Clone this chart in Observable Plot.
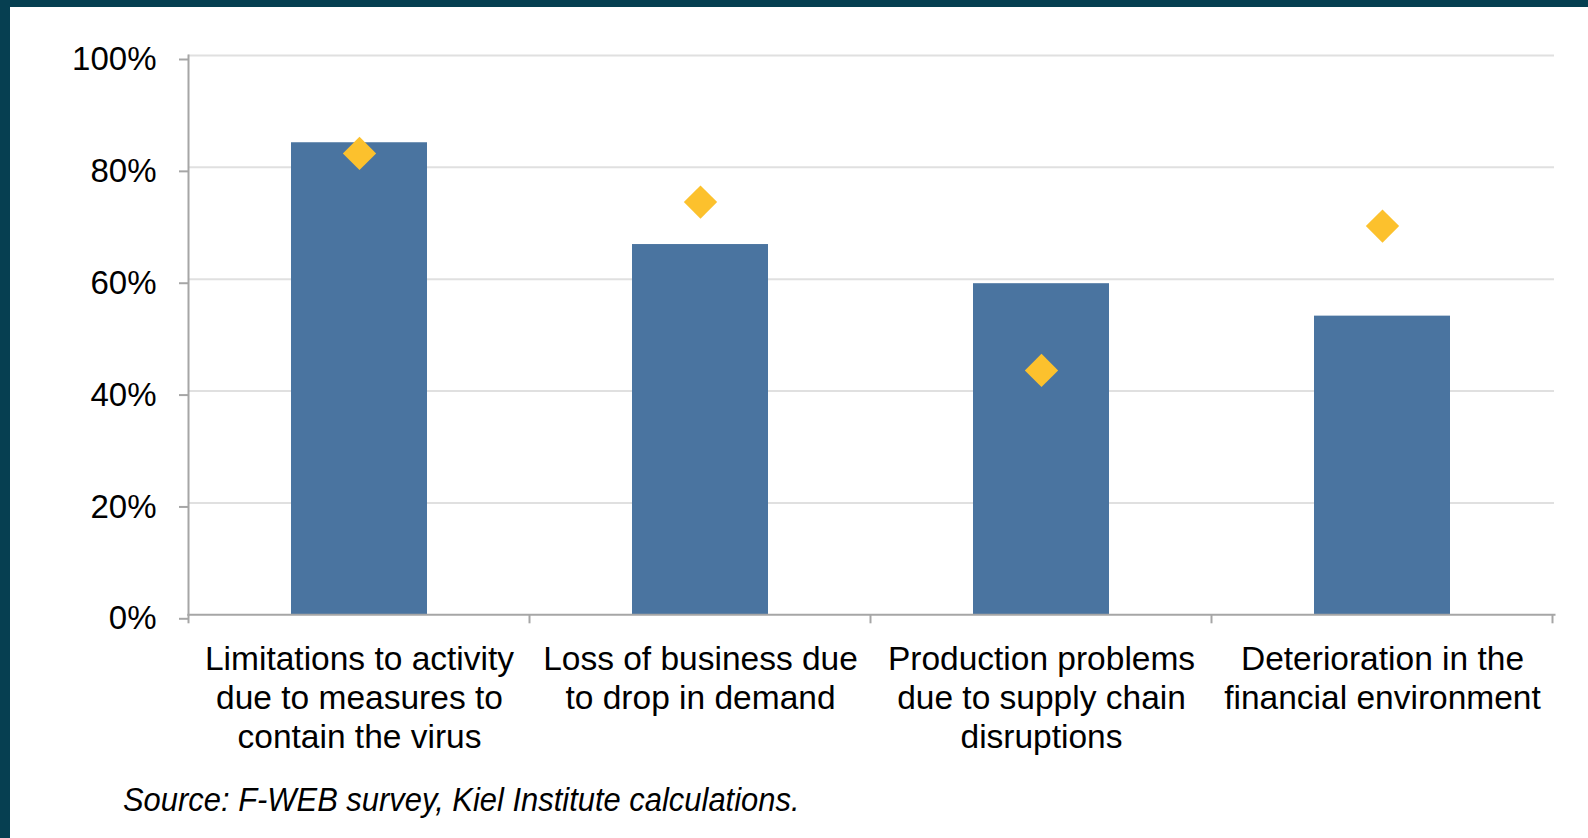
<!DOCTYPE html>
<html><head><meta charset="utf-8">
<script src="https://cdn.jsdelivr.net/npm/d3@7"></script>
<script src="https://cdn.jsdelivr.net/npm/@observablehq/plot@0.6"></script>
<style>
html,body{margin:0;padding:0;background:#fff;}
#wrap{position:relative;width:1588px;height:838px;overflow:hidden;background:#fff;font-family:"Liberation Sans",Arial,Helvetica,sans-serif;}
#topbar{position:absolute;left:0;top:0;width:1588px;height:7px;background:#063f51;}
#leftbar{position:absolute;left:0;top:0;width:10px;height:838px;background:#063f51;}
#chart{position:absolute;left:0;top:0;}
#caption{position:absolute;left:123px;top:783px;font-size:33.5px;line-height:33.5px;font-style:italic;color:#000;transform:scaleX(0.923);transform-origin:0 0;white-space:nowrap;}
</style></head><body>
<div id="wrap"><div id="chart"></div><div id="topbar"></div><div id="leftbar"></div><div id="caption">Source: F-WEB survey, Kiel Institute calculations.</div></div>
<script>
const categories = [
  "Limitations to activity\ndue to measures to\ncontain the virus",
  "Loss of business due\nto drop in demand",
  "Production problems\ndue to supply chain\ndisruptions",
  "Deterioration in the\nfinancial environment"
];
const barValues = [0.844, 0.662, 0.592, 0.534];
const diamondValues = [0.825, 0.738, 0.437, 0.695];
const yTicks = [0, 0.2, 0.4, 0.6, 0.8, 1.0];
const yTickLabels = ["0%", "20%", "40%", "60%", "80%", "100%"];

const data = categories.map((c, i) => ({category: c, bar: barValues[i], diamond: diamondValues[i]}));

const axisColor = "#a6a6a6";
const chart = Plot.plot({
  width: 1588, height: 760,
  marginLeft: 188, marginRight: 34, marginTop: 55, marginBottom: 145.7,
  style: {fontFamily: "'Liberation Sans', Arial, Helvetica, sans-serif", background: "transparent", overflow: "visible", color: "#000"},
  x: {type: "band", domain: categories, paddingInner: 0.6, paddingOuter: 0.3},
  y: {domain: [0, 1]},
  marks: [
    Plot.gridY(yTicks.slice(1), {stroke: "#e0e0e0", strokeOpacity: 1, strokeWidth: 2}),
    Plot.barY(data, {x: "category", y: "bar", fill: "#4a74a0"}),
    Plot.frame({anchor: "left", stroke: axisColor, strokeWidth: 2}),
    Plot.frame({anchor: "bottom", stroke: axisColor, strokeWidth: 2}),
    Plot.axisY(yTicks, {tickFormat: d => yTickLabels[yTicks.indexOf(d)], tickSize: 9, tickPadding: 23, stroke: axisColor, strokeWidth: 2, strokeOpacity: 1, fontSize: 33, fill: "#000", dy: 4, label: null}),
    Plot.axisX({tickSize: 0, tickPadding: 27, fontSize: 33.5, lineHeight: 1.165, fill: "#000", label: null}),
    Plot.dot(data, {x: "category", y: "diamond", symbol: "diamond2", r: 15, fill: "#fcc12d"})
  ]
});

// category boundary ticks on the x axis, from the library's band scale
const sx = chart.scale("x");
const sy = chart.scale("y");
const gap = (sx.step - sx.bandwidth) / 2;
const bounds = categories.map(c => sx.apply(c) - gap);
bounds.push(sx.apply(categories[categories.length - 1]) + sx.bandwidth + gap);
const y0 = sy.apply(0);
d3.select(chart).append("g")
  .attr("stroke", axisColor).attr("stroke-width", 2)
  .selectAll("line").data(bounds).join("line")
  .attr("x1", d => d).attr("x2", d => d)
  .attr("y1", y0).attr("y2", y0 + 9);

document.getElementById("chart").appendChild(chart);
</script>
</body></html>
